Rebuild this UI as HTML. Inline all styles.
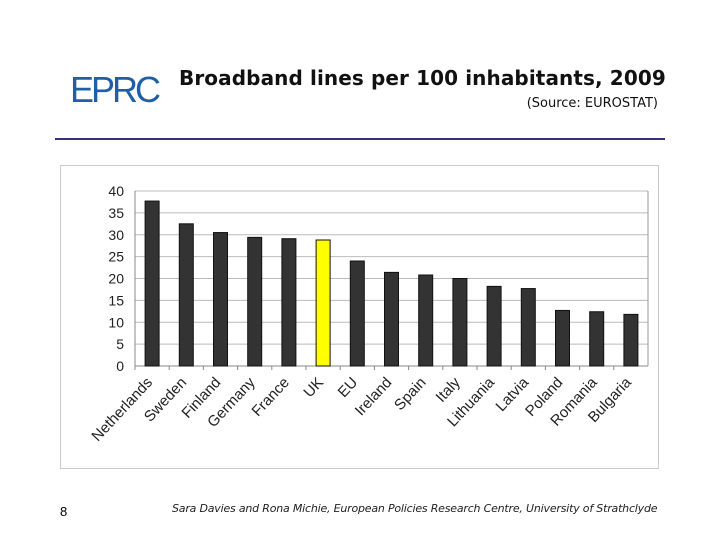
<!DOCTYPE html>
<html><head><meta charset="utf-8"><style>
body{margin:0;width:720px;height:540px;background:#fff;position:relative;overflow:hidden;font-family:"Liberation Sans",sans-serif}
.a{position:absolute}
</style></head><body>
<div class="a" style="left:70px;top:70px;font-family:'Liberation Sans',sans-serif;font-size:36px;letter-spacing:-3px;color:#1f5fa8;line-height:40px">EPRC</div>
<div class="a" style="left:179px;top:66px;font-size:20px;font-weight:bold;color:#111;font-family:'DejaVu Sans',sans-serif;letter-spacing:0.1px">Broadband lines per 100 inhabitants, 2009</div>
<div class="a" style="right:62px;top:96px;font-size:13px;color:#111;font-family:'DejaVu Sans',sans-serif">(Source: EUROSTAT)</div>
<div class="a" style="left:55px;top:138px;width:610px;height:2px;background:#3b3170"></div>
<svg class="a" style="left:0;top:0" width="720" height="540">
<rect x="60.5" y="165.5" width="598" height="303" fill="#fff" stroke="#ccc"/>
<g id="g"></g>
</svg>
<div class="a" style="left:60px;top:504px;font-size:13px">8</div>
<div class="a" style="left:172px;top:502px;font-size:11px;font-style:italic;color:#222;font-family:'DejaVu Sans',sans-serif;letter-spacing:-0.2px">Sara Davies and Rona Michie, European Policies Research Centre, University of Strathclyde</div>
<script>
const categories=["Netherlands","Sweden","Finland","Germany","France","UK","EU","Ireland","Spain","Italy","Lithuania","Latvia","Poland","Romania","Bulgaria"];
const values=[37.7,32.5,30.5,29.4,29.1,28.8,24,21.4,20.8,20,18.2,17.7,12.7,12.4,11.8];
const highlight=["UK"];
const yTicks=[0,5,10,15,20,25,30,35,40];
const NS="http://www.w3.org/2000/svg",g=document.getElementById('g');
const L=135,R=648,T=191,B=366,bw=(R-L)/categories.length;
const y=v=>B-(v/40)*(B-T), x=i=>L+bw*i;
function mk(t,a){const e=document.createElementNS(NS,t);for(const k in a)e.setAttribute(k,a[k]);g.appendChild(e);return e;}
yTicks.forEach(v=>{
 const l=mk('line',{x1:L,x2:R,y1:y(v),y2:y(v),stroke:v===0?'#888':'#bbb'});
 
 
 const t=mk('text',{x:L-11,y:y(v)+5,'text-anchor':'end','font-size':14,fill:'#222','font-family':'Liberation Sans'});
 t.textContent=v;
 
 
});
mk('line',{x1:L,x2:L,y1:T,y2:B,stroke:'#888'});
mk('line',{x1:R,x2:R,y1:T,y2:B,stroke:'#999'});
categories.forEach((c,i)=>{
 const w=14,cx=x(i)+bw/2;
 const r=mk('rect',{x:cx-w/2,y:y(values[i]),width:w,height:B-y(values[i]),fill:highlight.includes(c)?'#ffff00':'#333',stroke:'#111','stroke-width':1});
 
 
 mk('line',{x1:x(i),x2:x(i),y1:B,y2:B+4,stroke:'#888'});
 const tx=cx+1,ty=B+17;
 const t=mk('text',{x:tx,y:ty,'text-anchor':'end','font-size':15,fill:'#222','font-family':'Liberation Sans',transform:`rotate(-47 ${tx} ${ty})`});
 t.textContent=c;
 
 
});
</script>
</body></html>
